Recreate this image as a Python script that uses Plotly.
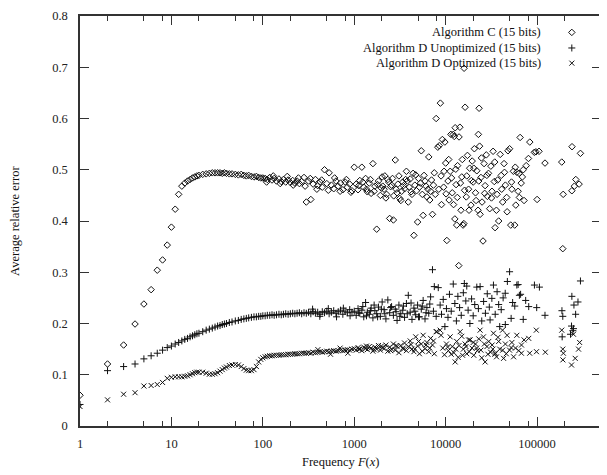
import plotly.graph_objects as go

# ---------------- data ----------------
# shared frequencies (dense, smooth part of all curves)
freq_main = (list(range(1, 21)) + list(range(22, 41, 2)) +
             [43, 46, 50, 54, 58, 62, 66, 70, 75, 80, 85, 90, 95, 100,
              106, 112, 119, 126, 133, 141, 150, 159, 168, 178, 189, 200, 212, 224, 237, 251, 266, 282, 299,
              316, 335, 355, 376, 398, 422, 447, 473, 501, 531, 562, 596, 631, 668, 708, 750, 794, 841, 891, 944,
              1000, 1050, 1100, 1150, 1210, 1270, 1330, 1390, 1460, 1530, 1600, 1680, 1760, 1840, 1930,
              2020, 2120, 2220, 2330, 2440, 2560, 2680, 2810, 2940, 3080, 3230, 3390, 3550, 3720, 3900,
              4090, 4280, 4490, 4700, 4930, 5160, 5410, 5670, 5940, 6230, 6530, 6840, 7170, 7510, 7870])

algC_main = [0.060, 0.121, 0.158, 0.199, 0.238, 0.266, 0.304, 0.324, 0.353, 0.388,
             0.423, 0.452, 0.468, 0.474, 0.478, 0.481, 0.484, 0.486, 0.488, 0.489,
             0.491, 0.492, 0.493, 0.494, 0.494, 0.494, 0.494, 0.493, 0.494, 0.493,
             0.492, 0.492, 0.491, 0.490, 0.491, 0.489, 0.488, 0.489, 0.487, 0.486, 0.487, 0.485, 0.484, 0.484,
             0.483, 0.481, 0.485, 0.480, 0.483, 0.478, 0.482, 0.477, 0.481, 0.476, 0.480, 0.475, 0.479, 0.474,
             0.478, 0.473, 0.477, 0.485, 0.437,
             0.478, 0.442, 0.472, 0.481, 0.469, 0.476, 0.466, 0.500, 0.473, 0.494, 0.470, 0.463, 0.478, 0.468,
             0.474, 0.461, 0.476, 0.466, 0.472, 0.459,
             0.505, 0.472, 0.461, 0.479, 0.505, 0.466, 0.483, 0.457, 0.474, 0.454, 0.512, 0.468, 0.384, 0.478,
             0.450, 0.486, 0.462, 0.445, 0.481, 0.405, 0.470, 0.402, 0.519, 0.455, 0.488, 0.440, 0.476, 0.463,
             0.497, 0.437, 0.482, 0.452, 0.372, 0.490, 0.398, 0.466, 0.537, 0.411, 0.478, 0.447, 0.525, 0.458,
             0.413, 0.494, 0.600]

algDU_main = [0.042, 0.108, 0.116, 0.121, 0.131, 0.137, 0.142, 0.148, 0.153, 0.156,
              0.160, 0.163, 0.166, 0.169, 0.171, 0.174, 0.176, 0.178, 0.180, 0.181,
              0.184, 0.187, 0.189, 0.191, 0.193, 0.195, 0.196, 0.198, 0.199, 0.200,
              0.202, 0.203, 0.205, 0.206, 0.208, 0.209, 0.210, 0.211, 0.212, 0.213, 0.213, 0.214, 0.214, 0.215,
              0.215, 0.216, 0.216, 0.217, 0.216, 0.217, 0.218, 0.217, 0.218, 0.219, 0.218, 0.219, 0.220, 0.219,
              0.220, 0.221, 0.219, 0.221, 0.220,
              0.222, 0.219, 0.223, 0.220, 0.222, 0.218, 0.223, 0.221, 0.224, 0.219, 0.222, 0.225, 0.220, 0.223,
              0.226, 0.218, 0.224, 0.221, 0.227, 0.222,
              0.224, 0.216, 0.229, 0.220, 0.226, 0.213, 0.241, 0.222, 0.218, 0.230, 0.211, 0.225, 0.219, 0.232,
              0.214, 0.242, 0.227, 0.209, 0.246, 0.221, 0.233, 0.216, 0.228, 0.206, 0.236, 0.219, 0.226, 0.212,
              0.239, 0.255, 0.222, 0.208, 0.230, 0.217, 0.236, 0.213, 0.228, 0.245, 0.209, 0.231, 0.220, 0.252,
              0.305, 0.272, 0.214]

algDO_main = [0.038, 0.051, 0.062, 0.065, 0.078, 0.079, 0.081, 0.085, 0.093, 0.095,
              0.096, 0.096, 0.096, 0.097, 0.098, 0.100, 0.102, 0.104, 0.105, 0.105,
              0.105, 0.103, 0.101, 0.101, 0.102, 0.104, 0.107, 0.110, 0.113, 0.115,
              0.118, 0.119, 0.120, 0.119, 0.116, 0.112, 0.109, 0.108, 0.108, 0.110, 0.116, 0.125, 0.130, 0.133,
              0.135, 0.136, 0.137, 0.137, 0.138, 0.138, 0.138, 0.139, 0.139, 0.139, 0.140, 0.140, 0.140, 0.141,
              0.141, 0.141, 0.142, 0.142, 0.142,
              0.143, 0.142, 0.144, 0.143, 0.144, 0.145, 0.144, 0.145, 0.146, 0.145, 0.146, 0.147, 0.146, 0.147,
              0.148, 0.147, 0.148, 0.149, 0.148, 0.150,
              0.151, 0.148, 0.153, 0.150, 0.147, 0.154, 0.151, 0.149, 0.155, 0.152, 0.146, 0.154, 0.150, 0.157,
              0.148, 0.153, 0.151, 0.158, 0.146, 0.154, 0.150, 0.160, 0.148, 0.155, 0.143, 0.157, 0.152, 0.162,
              0.147, 0.155, 0.166, 0.150, 0.145, 0.174, 0.156, 0.141, 0.160, 0.177, 0.151, 0.163, 0.145, 0.171,
              0.158, 0.141, 0.184]

# sparse / scattered points (each algorithm separately)
algC_tail_x = [110, 130, 155, 185, 215, 245, 290, 330, 390, 440, 520, 610, 700, 820, 920,
               1120, 1240, 1360, 1500, 1650, 1800, 1980, 2160, 2260, 2500, 2620, 2870, 3150, 3450, 3800,
               4180, 4600, 5050, 5550, 6100, 6700, 7350,
               2050, 2380, 2700, 3000, 3300, 3650, 4000, 4400, 4800, 5300, 5800, 6400, 7000, 7700,
               8200, 8500, 8750, 8900, 9200, 9500, 9800, 10000, 10300, 10600, 10900, 11200, 11400, 11800,
               12100, 12400, 12600, 12700, 13000, 13200, 13500, 13900, 14000, 14300, 14700, 15000, 15500,
               15800, 15900, 16300, 16800, 17300, 17800, 18300, 18900, 19500, 20000, 20600, 21200, 21900,
               22600, 22800, 23200, 23500, 23800, 24300, 25000, 25600, 26300, 27000, 27800, 28600, 29400,
               30300, 31200, 32100, 33000, 34000, 34700, 35900, 36500, 38000, 39500, 40500, 42000, 43500,
               45000, 46500, 48000, 50000, 51500, 53000, 55000, 56900, 58500, 60000, 62000, 63500, 65200,
               67000, 69000, 72000, 76000, 80400, 83200, 93300, 97000, 100000, 105000, 122000, 186000,
               191000, 193000, 240000, 241000, 256000, 265000, 288000, 298000,
               8400, 9000, 9600, 10100, 10800, 11600, 12200, 12900, 13400, 14500, 15200, 16100, 17000,
               18000, 19100, 20300, 21500, 23000, 24600, 26700, 28200, 31700, 34400, 37000, 41000, 44000,
               47000, 52500, 57700, 64000, 70500]
algC_tail_y = [0.476, 0.488, 0.473, 0.487, 0.470, 0.484, 0.468, 0.483, 0.462, 0.480, 0.460, 0.484, 0.458,
               0.481, 0.456,
               0.469, 0.476, 0.462, 0.481, 0.458, 0.471, 0.464, 0.488, 0.452, 0.467, 0.483, 0.462, 0.444,
               0.469, 0.478, 0.457, 0.470, 0.483, 0.452, 0.468, 0.441, 0.470,
               0.468, 0.476, 0.449, 0.472, 0.458, 0.481, 0.466, 0.493, 0.459, 0.474, 0.489, 0.462, 0.480, 0.452,
               0.544, 0.547, 0.630, 0.488, 0.559, 0.466, 0.554, 0.513, 0.362, 0.478, 0.441, 0.497, 0.569, 0.455,
               0.569, 0.565, 0.404, 0.582, 0.471, 0.392, 0.508, 0.313, 0.564, 0.583, 0.421, 0.486, 0.392,
               0.395, 0.698, 0.622, 0.447, 0.528, 0.462, 0.503, 0.431, 0.517, 0.476, 0.541, 0.455, 0.498,
               0.421, 0.569, 0.620, 0.546, 0.413, 0.485, 0.437, 0.361, 0.512, 0.469, 0.529, 0.448, 0.493,
               0.424, 0.507, 0.458, 0.536, 0.477, 0.387, 0.421, 0.452, 0.400, 0.530, 0.489, 0.437, 0.512,
               0.470, 0.446, 0.537, 0.541, 0.392, 0.462, 0.497, 0.392, 0.431, 0.495, 0.458, 0.493, 0.563,
               0.474, 0.486, 0.440, 0.508, 0.522, 0.554, 0.534, 0.535, 0.442, 0.536, 0.513, 0.515,
               0.346, 0.452, 0.459, 0.545, 0.468, 0.481, 0.472, 0.532,
               0.462, 0.432, 0.497, 0.453, 0.520, 0.484, 0.432, 0.501, 0.446, 0.474, 0.520, 0.460, 0.488,
               0.421, 0.479, 0.503, 0.440, 0.478, 0.523, 0.454, 0.489, 0.445, 0.515, 0.480, 0.462, 0.495,
               0.418, 0.476, 0.505, 0.446, 0.500]

algDU_tail_x = [350, 420, 520, 640, 760, 900,
                1120, 1240, 1360, 1500, 1650, 1800, 1980, 2160, 2500, 2870, 3150, 3450, 3800, 4180, 4600,
                5050, 5550, 6100, 6700, 7350,
                8300, 8700, 9000, 9400, 9800, 10200, 10600, 11000, 11500, 12100, 12600, 13100, 13600, 14200,
                14800, 15600, 16000, 16600, 17000, 17600, 18400, 19200, 20000, 20800, 21900, 22800, 23800,
                24800, 26000, 27200, 28500, 30000, 30600, 32000, 33300, 34800, 36500, 38000, 39000, 40500,
                42500, 44800, 44900, 47300, 50000, 52000, 54000, 57000, 60000, 62000, 64000, 66000, 70500,
                75000, 81000, 93500, 99000, 106000, 122000, 187000, 188000, 191000, 232000, 238000, 240000,
                246000, 250000, 253000, 264000, 280000, 298000]
algDU_tail_y = [0.228, 0.214, 0.229, 0.213, 0.230, 0.215,
                0.221, 0.233, 0.215, 0.225, 0.236, 0.213, 0.228, 0.219, 0.231, 0.223, 0.214, 0.234, 0.219,
                0.240, 0.224, 0.213, 0.234, 0.221, 0.238, 0.224,
                0.270, 0.236, 0.218, 0.247, 0.194, 0.229, 0.212, 0.257, 0.224, 0.277, 0.239, 0.205, 0.253, 0.231,
                0.216, 0.260, 0.278, 0.244, 0.273, 0.226, 0.200, 0.248, 0.215, 0.237, 0.271, 0.229, 0.272,
                0.205, 0.243, 0.220, 0.258, 0.232, 0.207, 0.249, 0.275, 0.218, 0.262, 0.237, 0.194, 0.227,
                0.250, 0.259, 0.198, 0.282, 0.301, 0.210, 0.241, 0.234, 0.275, 0.276, 0.255, 0.257, 0.208,
                0.245, 0.233, 0.275, 0.231, 0.271, 0.216, 0.225, 0.174, 0.214, 0.179, 0.195, 0.253,
                0.186, 0.190, 0.236, 0.218, 0.242, 0.283]

algDO_tail_x = [400, 550, 700, 850,
                1120, 1360, 1650, 1980, 2500, 2870, 3450, 4180, 4600, 5050, 5550, 6100, 6700, 7350,
                8000, 8700, 8900, 9300, 9700, 10200, 10700, 11200, 11800, 12300, 12700, 13200, 13700, 14400,
                15000, 15600, 16300, 17000, 17800, 18500, 19400, 20300, 21200, 22200, 23000, 23800, 24800,
                25900, 27000, 28300, 29600, 31000, 32200, 33300, 34500, 35000, 36000, 37300, 39000, 41900,
                43000, 45000, 47000, 50000, 53000, 55300, 58000, 60000, 63000, 67400, 67500, 72000, 81000,
                83000, 98000, 98500, 123000, 186000, 191000, 191500, 194000, 238000, 250000, 261000,
                284000, 292000,
                10500, 11500, 12900, 14000, 15300, 16700, 18100, 20000, 21800, 24300, 26500, 29000, 32800,
                38000, 42000, 46000, 52000]
algDO_tail_y = [0.149, 0.140, 0.152, 0.142,
                0.150, 0.156, 0.149, 0.156, 0.147, 0.157, 0.150, 0.159, 0.150, 0.165, 0.146, 0.158, 0.152,
                0.166,
                0.184, 0.187, 0.177, 0.152, 0.139, 0.160, 0.147, 0.174, 0.155, 0.143, 0.125, 0.165, 0.134, 0.184,
                0.175, 0.150, 0.160, 0.141, 0.168, 0.168, 0.152, 0.138, 0.160, 0.147, 0.170, 0.187, 0.133,
                0.174, 0.125, 0.155, 0.165, 0.144, 0.158, 0.181, 0.140, 0.142, 0.135, 0.173, 0.150, 0.187,
                0.132, 0.160, 0.177, 0.148, 0.163, 0.135, 0.152, 0.177, 0.147, 0.142, 0.158, 0.168, 0.171,
                0.142, 0.187, 0.145, 0.144, 0.187, 0.150, 0.129, 0.142, 0.119, 0.179, 0.132,
                0.150, 0.163,
                0.154, 0.140, 0.150, 0.157, 0.138, 0.155, 0.145, 0.163, 0.152, 0.148, 0.160, 0.140, 0.150,
                0.165, 0.148, 0.141, 0.153]

series_names = ["Algorithm C (15 bits)", "Algorithm D Unoptimized (15 bits)", "Algorithm D Optimized (15 bits)"]
y_tickvals = [0, 0.1, 0.2, 0.3, 0.4, 0.5, 0.6, 0.7, 0.8]
y_ticktext = ["0", "0.1", "0.2", "0.3", "0.4", "0.5", "0.6", "0.7", "0.8"]
x_tickvals = [1, 10, 100, 1000, 10000, 100000]
x_ticktext = ["1", "10", "100", "1000", "10000", "100000"]
x_minor = [m * 10 ** k for k in range(0, 6) for m in (2, 5, 8) if m * 10 ** k < 500000]

# ---------------- styling ----------------
FONT = "Liberation Serif, Times New Roman, serif"
INK = "#111111"
AX = "#333333"
symbols = ["diamond-open", "cross-thin-open", "x-thin-open"]
sizes = [5, 5, 5]

# the page body has an 8px margin, so the figure is sized to fit the 607x475 window
PAGE_OFFSET = 8
W, H = 607 - PAGE_OFFSET, 475 - PAGE_OFFSET

fig = go.Figure()
for name, xs, ys, sym, sz in [
    (series_names[0], freq_main + algC_tail_x, algC_main + algC_tail_y, symbols[0], sizes[0]),
    (series_names[1], freq_main + algDU_tail_x, algDU_main + algDU_tail_y, symbols[1], sizes[1]),
    (series_names[2], freq_main + algDO_tail_x, algDO_main + algDO_tail_y, symbols[2], sizes[2]),
]:
    fig.add_trace(go.Scatter(x=xs, y=ys, mode="markers", name=name, showlegend=False,
                             marker=dict(symbol=sym, size=sz, color=INK,
                                         line=dict(color=INK, width=1))))

# legend (gnuplot style: text right-aligned, key symbol on the right)
LEG_TEXT_X = 0.889
LEG_KEY_X = 0.944
LEG_ROWS = [0.960, 0.922, 0.885]
for i, name in enumerate(series_names):
    fig.add_annotation(x=LEG_TEXT_X, y=LEG_ROWS[i], xref="paper", yref="paper", text=name,
                       showarrow=False, xanchor="right", yanchor="middle",
                       font=dict(family=FONT, size=12.5, color=INK))
    fig.add_trace(go.Scatter(x=[LEG_KEY_X], y=[LEG_ROWS[i]], xaxis="x2", yaxis="y2", mode="markers",
                             showlegend=False, hoverinfo="skip",
                             marker=dict(symbol=symbols[i], size=sizes[i], color=INK,
                                         line=dict(color=INK, width=1))))

fig.add_annotation(x=0.5, y=-0.065, xref="paper", yref="paper", text="Frequency <i>F</i>(<i>x</i>)",
                   showarrow=False, xanchor="center", yanchor="top",
                   font=dict(family=FONT, size=12.5, color=INK))
fig.add_annotation(x=-0.125, y=0.5, xref="paper", yref="paper", text="Average relative error",
                   showarrow=False, xanchor="center", yanchor="middle", textangle=-90,
                   font=dict(family=FONT, size=12.5, color=INK))

fig.update_layout(
    width=W, height=H,
    margin=dict(l=72, r=6, t=7.5, b=49, autoexpand=False),
    paper_bgcolor="white", plot_bgcolor="white",
    showlegend=False,
    font=dict(family=FONT, size=12.5, color="#222222"),
    xaxis=dict(type="log", range=[0, 5.699], showgrid=False, zeroline=False,
               showline=True, linecolor=AX, linewidth=1.5, mirror="ticks",
               ticks="inside", ticklen=9, tickwidth=1, tickcolor=AX,
               tickmode="array", tickvals=x_tickvals, ticktext=x_ticktext,
               ticklabelstandoff=5,
               minor=dict(tickmode="array", tickvals=x_minor, ticks="inside", ticklen=5,
                          tickwidth=1, tickcolor=AX, showgrid=False)),
    yaxis=dict(range=[0, 0.8], showgrid=False, zeroline=False,
               showline=True, linecolor=AX, linewidth=1.5, mirror="ticks",
               ticks="inside", ticklen=9, tickwidth=1, tickcolor=AX,
               tickmode="array", tickvals=y_tickvals, ticktext=y_ticktext,
               ticklabelstandoff=8),
    xaxis2=dict(overlaying="x", range=[0, 1], visible=False, fixedrange=True),
    yaxis2=dict(overlaying="y", range=[0, 1], visible=False, fixedrange=True),
)

fig.write_html("out.html")
